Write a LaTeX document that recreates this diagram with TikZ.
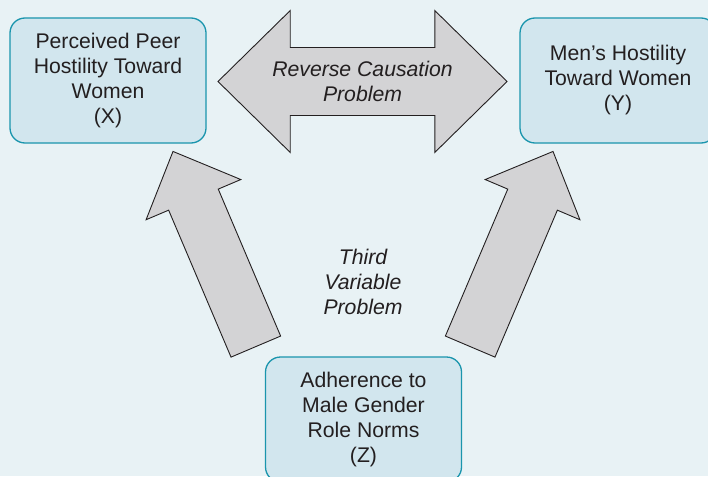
\documentclass[tikz,border=0pt]{standalone}
\usepackage{fontspec}
\setmainfont{Liberation Sans}
\usepackage{xcolor}
\usetikzlibrary{shapes.arrows}
\definecolor{bg}{HTML}{E8F2F5}
\definecolor{boxfill}{HTML}{D2E6EE}
\definecolor{boxline}{HTML}{1A95AD}
\definecolor{arrfill}{HTML}{D3D3D5}
\definecolor{ink}{HTML}{231F20}
\tikzset{
  var/.style={draw=boxline, fill=boxfill, line width=1.3pt, rounded corners=15pt, minimum width=196pt, minimum height=125pt, align=center, text=ink, font=\fontsize{21.2}{25}\selectfont},
  problem/.style={align=center, text=ink, font=\fontsize{21.2}{25}\selectfont\itshape},
  fat/.style={single arrow, draw=ink, fill=arrfill, line width=0.9pt, inner xsep=0pt, inner ysep=26.5pt, single arrow head extend=24.5pt, single arrow tip angle=89, minimum height=212pt, anchor=tail},
  fatboth/.style={double arrow, draw=ink, fill=arrfill, line width=0.9pt, inner xsep=0pt, inner ysep=33.5pt, double arrow head extend=37pt, double arrow tip angle=89, minimum height=289pt},
}

\begin{document}
\begin{tikzpicture}[x=1pt,y=-1pt]
  \useasboundingbox (0,0) rectangle (708,476);
  \fill[bg] (0,0) rectangle (708,476);
  \clip (0,0) rectangle (708,476);
  % the three variables
  \node[var] (xbox) at (108,80.5) {Perceived Peer\\Hostility Toward\\Women\\(X)};
  \node[var] (ybox) at (618,80.5) {Men’s Hostility\\Toward Women\\(Y)};
  \node[var] (zbox) at (363.5,419.5) {Adherence to\\Male Gender\\Role Norms\\(Z)};
  % block arrows
  \node[fatboth] (rev) at (362.5,81.5) {};
  \node[fat, rotate=113] (zx) at (256,347) {};
  \node[fat, rotate=67] (zy) at (470,347) {};
  \node[problem] (revlbl) at (rev.center) {Reverse Causation\\Problem};
  \node[problem] (thirdlbl) at (363,282) {Third\\Variable\\Problem};
\end{tikzpicture}
\end{document}
